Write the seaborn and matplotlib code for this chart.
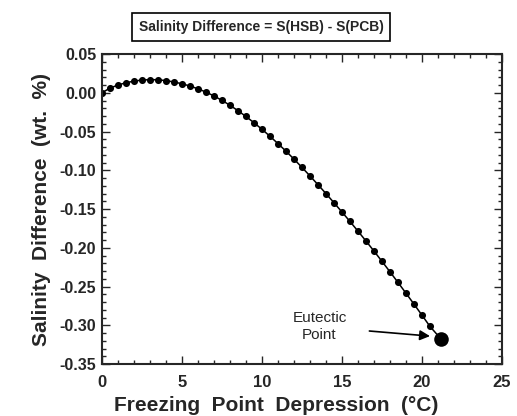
import numpy as np
import pandas as pd
import matplotlib
matplotlib.use("Agg")
import matplotlib.pyplot as plt
import seaborn as sns
from matplotlib.ticker import MultipleLocator, FormatStrFormatter

# freezing point depression (deg C) and salinity difference (wt. %)
fpd = [0.0, 0.5, 1.0, 1.5, 2.0, 2.5, 3.0, 3.5, 4.0, 4.5,
       5.0, 5.5, 6.0, 6.5, 7.0, 7.5, 8.0, 8.5, 9.0, 9.5,
       10.0, 10.5, 11.0, 11.5, 12.0, 12.5, 13.0, 13.5, 14.0, 14.5,
       15.0, 15.5, 16.0, 16.5, 17.0, 17.5, 18.0, 18.5, 19.0, 19.5,
       20.0, 20.5]
sal_diff = [0.000, 0.006, 0.010, 0.013, 0.015, 0.0165, 0.017, 0.0168, 0.0158, 0.014,
            0.0117, 0.0088, 0.0052, 0.001, -0.004, -0.0097, -0.016, -0.023, -0.0305, -0.0385,
            -0.047, -0.056, -0.0655, -0.0752, -0.0855, -0.0962, -0.1072, -0.1185, -0.130, -0.1418,
            -0.1538, -0.166, -0.1785, -0.1912, -0.2042, -0.2175, -0.231, -0.2447, -0.2586, -0.2727,
            -0.287, -0.3015]
eutectic_x = [21.2]
eutectic_y = [-0.318]

sns.set_style("ticks")
plt.rcParams['font.family'] = ['Liberation Sans', 'DejaVu Sans']
plt.rcParams['axes.unicode_minus'] = False

df = pd.DataFrame({'fpd': fpd + eutectic_x, 'diff': sal_diff + eutectic_y})
df_pts = pd.DataFrame({'fpd': fpd, 'diff': sal_diff})
df_eut = pd.DataFrame({'fpd': eutectic_x, 'diff': eutectic_y})

fig = plt.figure(figsize=(5.17, 4.16), dpi=100)
ax = fig.add_axes([0.197, 0.125, 0.774, 0.745])

sns.lineplot(data=df, x='fpd', y='diff', color='black', linewidth=1.1, ax=ax)
sns.scatterplot(data=df_pts, x='fpd', y='diff', color='black', s=26,
                edgecolor='black', linewidth=0, ax=ax)
sns.scatterplot(data=df_eut, x='fpd', y='diff', color='black', s=110,
                edgecolor='black', linewidth=0, ax=ax, zorder=5)

ax.set_xlim(0, 25)
ax.set_ylim(-0.35, 0.05)
ax.xaxis.set_major_locator(MultipleLocator(5))
ax.xaxis.set_minor_locator(MultipleLocator(1))
ax.yaxis.set_major_locator(MultipleLocator(0.05))
ax.yaxis.set_minor_locator(MultipleLocator(0.01))
ax.yaxis.set_major_formatter(FormatStrFormatter('%.2f'))
ax.tick_params(which='both', direction='in', top=True, right=True, width=1.0)
ax.tick_params(which='major', length=6)
ax.tick_params(which='minor', length=3)
ax.tick_params(axis='y', which='major', labelsize=11.5, pad=4)
ax.tick_params(axis='x', which='major', labelsize=12, pad=8)
for lab in ax.get_xticklabels() + ax.get_yticklabels():
    lab.set_fontweight('bold')
for sp in ax.spines.values():
    sp.set_linewidth(1.5)

ax.set_xlabel('Freezing  Point  Depression  (°C)', fontsize=15, fontweight='bold', labelpad=4)
ax.xaxis.label.set_x(0.435)
ax.set_ylabel('Salinity  Difference  (wt.  %)', fontsize=15, fontweight='bold', labelpad=6)

ax.annotate('Eutectic\nPoint', xy=(20.5, -0.314), xytext=(13.6, -0.302),
            ha='center', va='center', fontsize=11, linespacing=1.25,
            arrowprops=dict(arrowstyle='-|>', color='black', lw=1.2,
                            mutation_scale=15, shrinkA=14, shrinkB=0))

fig.text(0.505, 0.935, 'Salinity Difference = S(HSB) - S(PCB)',
         ha='center', va='center', fontsize=10, fontweight='bold',
         bbox=dict(boxstyle='square,pad=0.5', facecolor='white',
                   edgecolor='black', linewidth=1.2))

fig.savefig('out.png', dpi=100)
